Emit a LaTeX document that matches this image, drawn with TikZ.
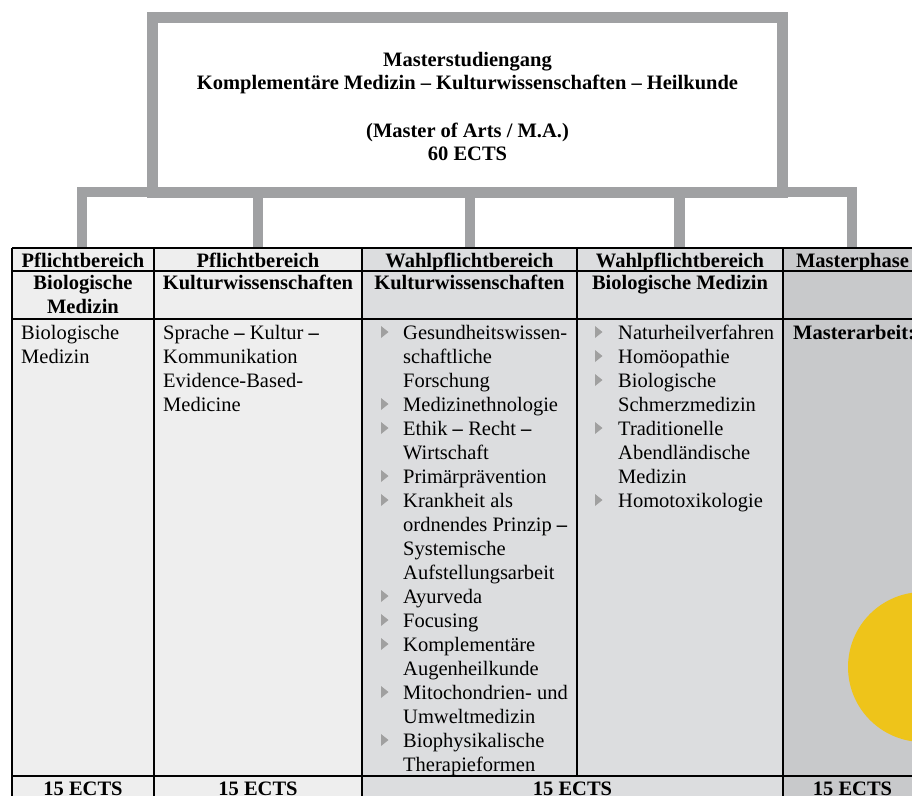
\documentclass[tikz,border=0pt]{standalone}
\usepackage{fontspec}
\setmainfont{Liberation Serif}
\definecolor{treegray}{HTML}{A0A1A3}
\definecolor{colA}{HTML}{EEEEEE}
\definecolor{colB}{HTML}{DCDDDF}
\definecolor{colC}{HTML}{C8C9CB}
\definecolor{sun}{HTML}{EEC41A}
\definecolor{bulgray}{HTML}{A0A0A0}
\tikzset{
  txt/.style={font=\fontsize{20.5}{24}\selectfont, inner sep=0pt},
  btxt/.style={font=\fontsize{20.5}{24}\selectfont\bfseries, inner sep=0pt},
  tree/.style={draw=treegray, line width=10.5pt, line join=miter},
  grid/.style={draw=black, line width=1.3pt},
}
\newcommand\bulletat[2]{\fill[bulgray] (#1,#2-13) -- ++(7.5,6) -- ++(-7.5,6) -- cycle;}
\begin{document}
\begin{tikzpicture}[x=1pt,y=-1pt]
\useasboundingbox (0,0) rectangle (912,796);
\clip (0,0) rectangle (912,796);
% top box
\node[tree, fill=white, minimum width=630pt, minimum height=175pt, inner sep=0pt] (top) at (467.5,105) {};
\node[btxt, anchor=base] (t1) at (467.5,66) {Masterstudiengang};
\node[btxt, anchor=base] (t2) at (467.5,89.5) {Komplementäre Medizin – Kulturwissenschaften – Heilkunde};
\node[btxt, anchor=base] (t3) at (467.5,137) {(Master of Arts / M.A.)};
\node[btxt, anchor=base] (t4) at (467.5,160.5) {60 ECTS};
% column fills
\fill[colA] (12,248) rectangle (362,796);
\fill[colB] (362,248) rectangle (783,796);
\fill[colC] (783,248) rectangle (922,796);
\fill[sun] (923,667) circle (75);
% tree connectors
\coordinate (d1) at (82,248);
\coordinate (d2) at (258,248);
\coordinate (d3) at (470,248);
\coordinate (d4) at (679.5,248);
\coordinate (d5) at (852,248);
\coordinate (b1) at (82,192);
\coordinate (b5) at (852,192);
\draw[tree] (d1) -- (b1) -- (b5) -- (d5);
\draw[tree] (d2) -- (d2 |- b1);
\draw[tree] (d3) -- (d3 |- b1);
\draw[tree] (d4) -- (d4 |- b1);
% grid
\draw[grid] (12,248) -- (922,248);
\draw[grid] (12,271) -- (922,271);
\draw[grid] (12,319) -- (922,319);
\draw[grid] (12,776) -- (922,776);
\draw[grid] (12,248) -- (12,796);
\draw[grid] (154,248) -- (154,796);
\draw[grid] (362,248) -- (362,796);
\draw[grid] (577,248) -- (577,776);
\draw[grid] (783,248) -- (783,796);
% header row 1
\node[btxt, anchor=base] (h1) at (83,267) {Pflichtbereich};
\node[btxt, anchor=base] (h2) at (258,267) {Pflichtbereich};
\node[btxt, anchor=base] (h3) at (469.5,267) {Wahlpflichtbereich};
\node[btxt, anchor=base] (h4) at (680,267) {Wahlpflichtbereich};
\node[btxt, anchor=base] (h5) at (852.5,267) {Masterphase};
% header row 2
\node[btxt, anchor=base] (s1a) at (83,289.5) {Biologische};
\node[btxt, anchor=base] (s1b) at (83,313) {Medizin};
\node[btxt, anchor=base] (s2) at (258,289.5) {Kulturwissenschaften};
\node[btxt, anchor=base] (s3) at (469.5,289.5) {Kulturwissenschaften};
\node[btxt, anchor=base] (s4) at (680,289.5) {Biologische Medizin};
% col 1
\node[txt, anchor=base west] (c1a) at (21,339) {Biologische};
\node[txt, anchor=base west] (c1b) at (21,363) {Medizin};
% col 2
\node[txt, anchor=base west] (c2a) at (163,339) {Sprache \textbf{–} Kultur \textbf{–}};
\node[txt, anchor=base west] (c2b) at (163,363) {Kommunikation};
\node[txt, anchor=base west] (c2c) at (163,387) {Evidence-Based-};
\node[txt, anchor=base west] (c2d) at (163,411) {Medicine};
% col 3
\foreach \i/\tx in {0/Gesundheitswissen-,1/schaftliche,2/Forschung,3/Medizinethnologie,4/Ethik \textbf{–} Recht \textbf{–},5/Wirtschaft,6/Primärprävention,7/Krankheit als,8/ordnendes Prinzip \textbf{–},9/Systemische,10/Aufstellungsarbeit,11/Ayurveda,12/Focusing,13/Komplementäre,14/Augenheilkunde,15/Mitochondrien- und,16/Umweltmedizin,17/Biophysikalische,18/Therapieformen}{
  \node[txt, anchor=base west] (c3l\i) at (403,339+24*\i) {\tx};
}
\foreach \i in {0,3,4,6,7,11,12,13,15,17}{
  \bulletat{381}{339+24*\i}
}
% col 4
\foreach \i/\tx in {0/Naturheilverfahren,1/Homöopathie,2/Biologische,3/Schmerzmedizin,4/Traditionelle,5/Abendländische,6/Medizin,7/Homotoxikologie}{
  \node[txt, anchor=base west] (c4l\i) at (618,339+24*\i) {\tx};
}
\foreach \i in {0,1,2,4,7}{
  \bulletat{595}{339+24*\i}
}
% col 5
\node[btxt, anchor=base west] (c5) at (793,339) {Masterarbeit:};
% footer
\node[btxt, anchor=base] (f1) at (83,795) {15 ECTS};
\node[btxt, anchor=base] (f2) at (258,795) {15 ECTS};
\node[btxt, anchor=base] (f3) at (572.5,795) {15 ECTS};
\node[btxt, anchor=base] (f4) at (852.5,795) {15 ECTS};
\end{tikzpicture}
\end{document}
